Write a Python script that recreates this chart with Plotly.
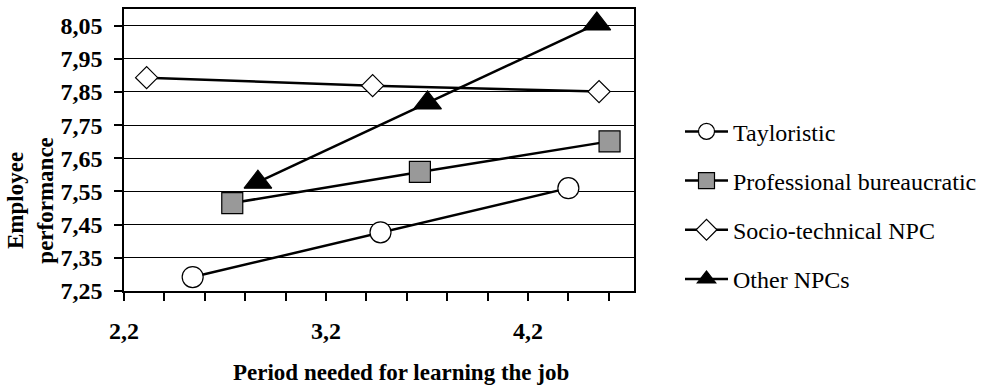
import plotly.graph_objects as go

# Employee performance vs. period needed for learning the job, by production concept
series_names = ["Tayloristic", "Professional bureaucratic", "Socio-technical NPC", "Other NPCs"]

tayloristic_x = [2.54, 3.47, 4.40]
tayloristic_y = [7.292, 7.427, 7.560]

professional_x = [2.736, 3.665, 4.604]
professional_y = [7.515, 7.609, 7.701]

sociotech_x = [2.312, 3.431, 4.552]
sociotech_y = [7.893, 7.869, 7.851]

other_x = [2.863, 3.703, 4.541]
other_y = [7.578, 7.817, 8.055]

y_ticks = [7.25, 7.35, 7.45, 7.55, 7.65, 7.75, 7.85, 7.95, 8.05]
y_tick_labels = ["7,25", "7,35", "7,45", "7,55", "7,65", "7,75", "7,85", "7,95", "8,05"]

x_ticks = [2.2, 2.4, 2.6, 2.8, 3.0, 3.2, 3.4, 3.6, 3.8, 4.0, 4.2, 4.4, 4.6]
x_tick_labels = ["2,2", "", "", "", "", "3,2", "", "", "", "", "4,2", "", ""]

SERIF = "Liberation Serif"
W, H = 990, 390
L, R, T, B = 124, 356, 7, 99

styles = [
    dict(symbol="circle", size=21, color="white"),
    dict(symbol="square", size=21, color="#999999"),
    dict(symbol="diamond", size=17, color="white"),
    dict(symbol="triangle-up", size=24, color="black"),
]
xs = [tayloristic_x, professional_x, sociotech_x, other_x]
ys = [tayloristic_y, professional_y, sociotech_y, other_y]

fig = go.Figure()
for i, (name, x, y, st) in enumerate(zip(series_names, xs, ys, styles)):
    fig.add_trace(go.Scatter(
        x=x, y=y, name=name, mode="lines+markers",
        legendgroup=f"g{i}",
        line=dict(color="black", width=2.5),
        marker=dict(symbol=st["symbol"], size=st["size"], color=st["color"],
                    line=dict(color="black", width=1.2)),
    ))

fig.update_layout(
    width=W, height=H,
    margin=dict(l=L, r=R, t=T, b=B),
    paper_bgcolor="white", plot_bgcolor="white",
    font=dict(family=SERIF, color="black"),
    legend=dict(
        x=(680 - L) / (W - L - R), y=(H - B - 108) / (H - T - B),
        xanchor="left", yanchor="top",
        font=dict(family=SERIF, size=24, color="black"),
        itemwidth=43, tracegroupgap=15,
        bgcolor="rgba(0,0,0,0)",
    ),
    xaxis=dict(
        range=[2.2, 4.725], tickmode="array", tickvals=x_ticks, ticktext=x_tick_labels,
        ticks="outside", ticklen=8, tickwidth=1.5, tickcolor="black",
        showgrid=False, zeroline=False,
        showline=True, linecolor="black", linewidth=1.5, mirror=True,
        tickfont=dict(family=SERIF, size=24, color="black", weight="bold"),
        ticklabelstandoff=9,
    ),
    yaxis=dict(
        range=[7.25, 8.10], tickmode="array", tickvals=y_ticks, ticktext=y_tick_labels,
        ticks="outside", ticklen=8, tickwidth=1.5, tickcolor="black",
        showgrid=True, gridcolor="black", gridwidth=1.3, zeroline=False,
        showline=True, linecolor="black", linewidth=1.5, mirror=True,
        tickfont=dict(family=SERIF, size=24, color="black", weight="bold"),
        ticklabelstandoff=7,
    ),
    annotations=[
        dict(text="<b>Period needed for learning the job</b>", xref="paper", yref="paper",
             x=(401 - L) / (W - L - R), y=-(373 - (H - B)) / (H - T - B),
             xanchor="center", yanchor="middle", showarrow=False,
             font=dict(family=SERIF, size=23, color="black")),
        dict(text="<b>Employee<br>performance</b>", xref="paper", yref="paper",
             x=(31 - L) / (W - L - R), y=((H - B) - 200) / (H - T - B),
             xanchor="center", yanchor="middle", showarrow=False, textangle=-90,
             font=dict(family=SERIF, size=23, color="black")),
    ],
)

fig.write_html("out.html")
